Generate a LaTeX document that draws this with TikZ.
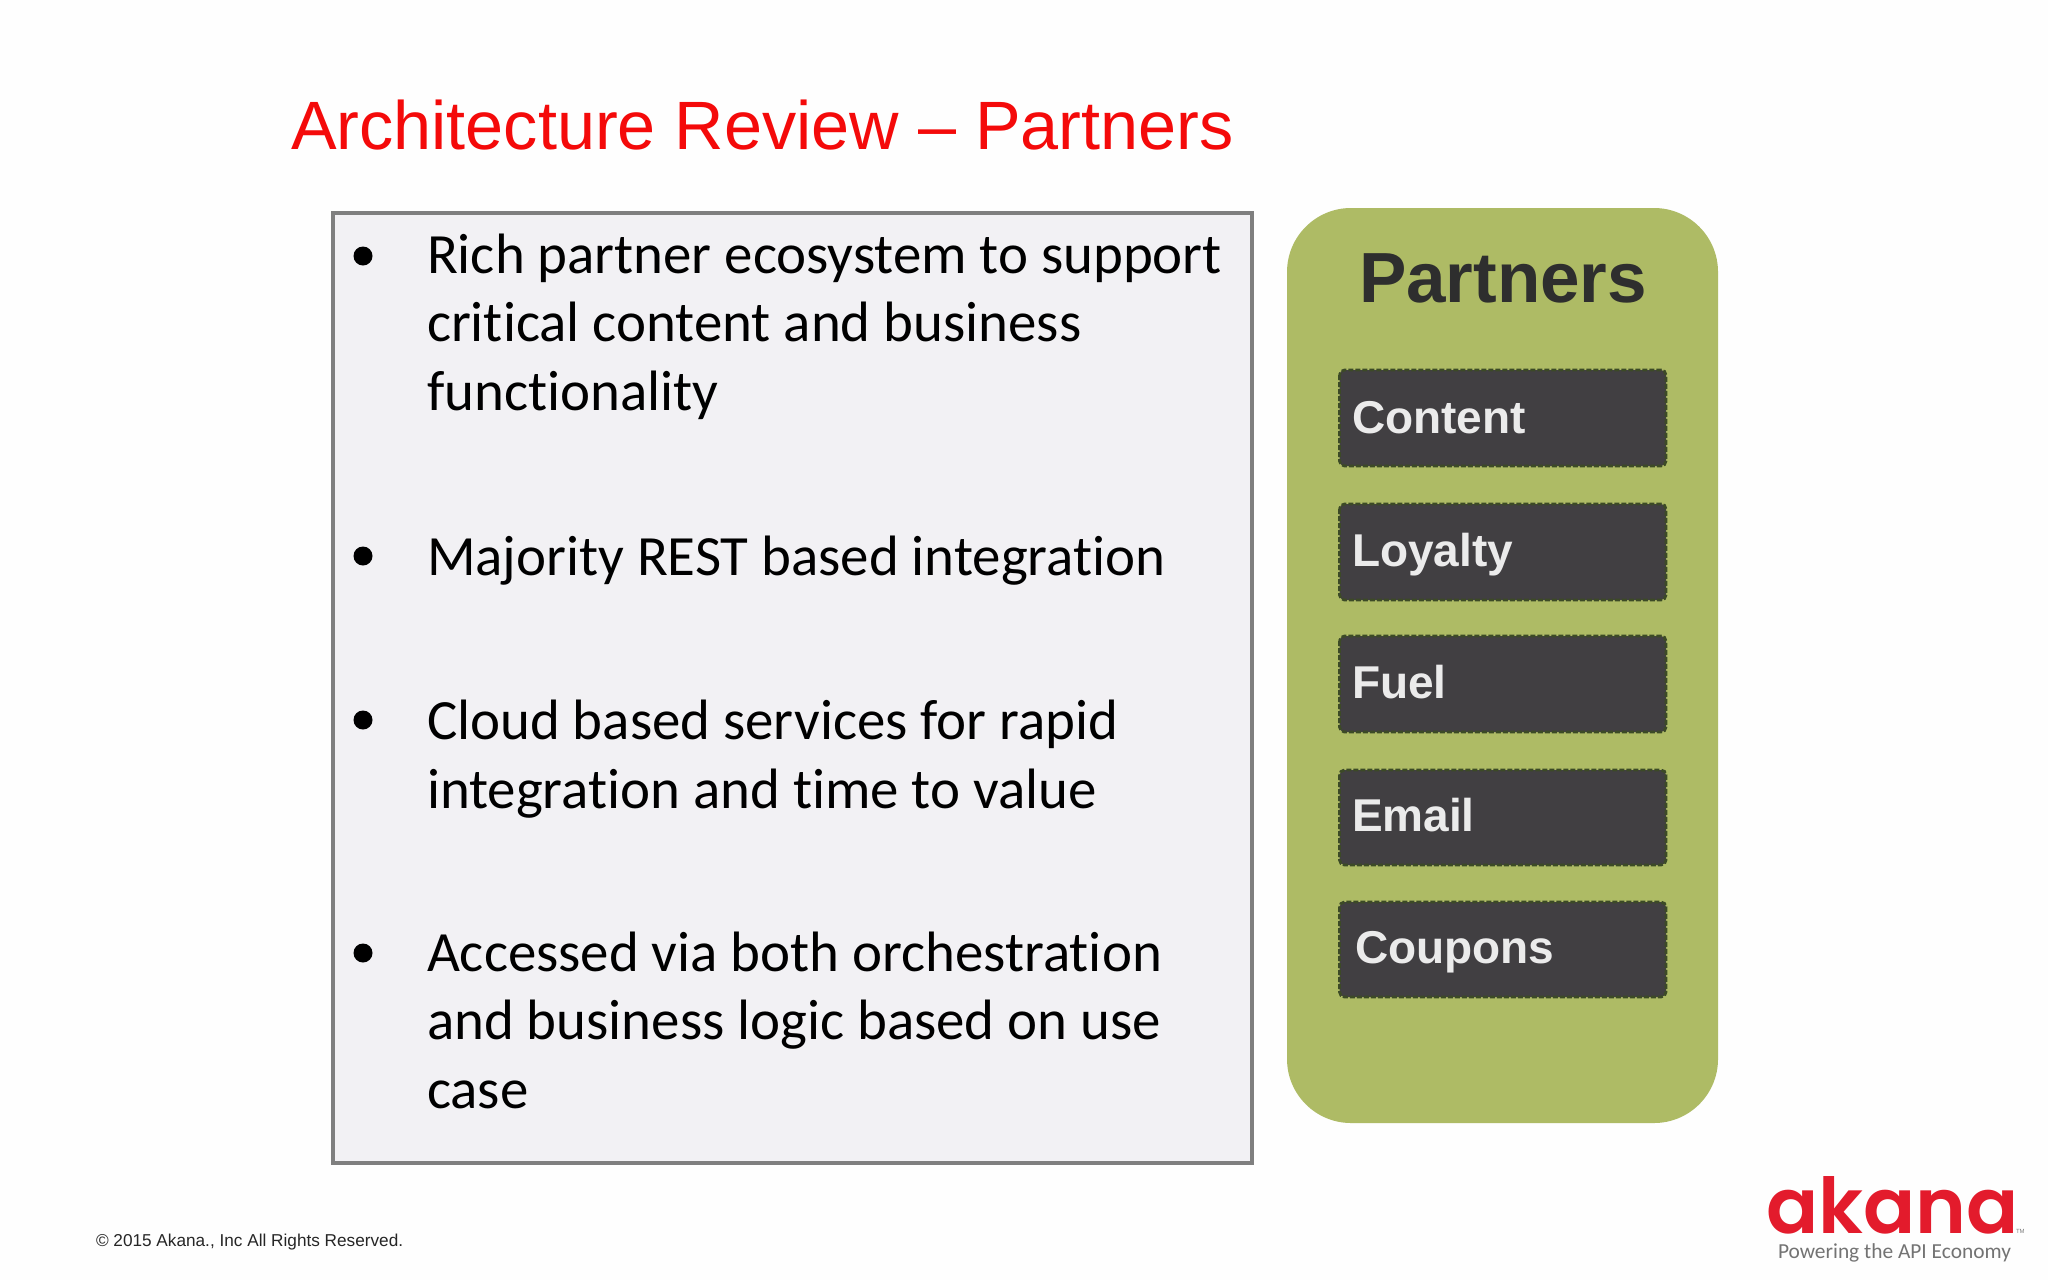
\documentclass[tikz,border=0pt]{standalone}
\usepackage{fontspec}
\setmainfont{Liberation Sans}
\newfontfamily\bodyfont[Ligatures=NoCommon]{Carlito}
\newfontfamily\logofont{Poppins SemiBold}
\definecolor{titlered}{HTML}{F40A0A}
\definecolor{logored}{HTML}{E31B2C}
\definecolor{panelgreen}{HTML}{AEBB65}
\definecolor{tilegray}{HTML}{413F42}
\definecolor{tileedge}{HTML}{3C4A26}
\definecolor{listfill}{HTML}{F2F1F4}
\definecolor{listedge}{HTML}{7F7F7F}
\begin{document}
\begin{tikzpicture}[
        x=0.5pt, y=-0.5pt,
        every node/.style={inner sep=0pt, outer sep=0pt},
        heading/.style={anchor=base west, text=titlered, font=\fontsize{34.2}{40}\selectfont},
        listbox/.style={draw=listedge, fill=listfill, line width=2.2pt},
        panel/.style={fill=panelgreen, rounded corners=32pt},
        tile/.style={draw=tileedge, fill=tilegray, line width=1.4pt, dash pattern=on 2.5pt off 1pt, rounded corners=2.5pt},
        tiletext/.style={anchor=base west, text=white!92!black, font=\fontsize{23}{28}\bfseries\selectfont},
        dotmark/.style={circle, fill=black, minimum size=9.5pt},
        item/.style={anchor=base west, align=left, font=\bodyfont\fontsize{28.45}{34.1}\selectfont},
    ]

    \useasboundingbox (0,0) rectangle (2048,1280);
    \fill[white!99.5!black] (0,0) rectangle (2048,1280);

    \node[heading](title) at (291,149) {Architecture Review -- Partners};

    % left list
    \draw[listbox] (333,213) rectangle (1252,1163);
    \node[dotmark](dot1) at (363,256) {};
    \node[dotmark](dot2) at (363,556) {};
    \node[dotmark](dot3) at (363,720) {};
    \node[dotmark](dot4) at (363,953) {};
    \node[item](item1) at (427,410) {Rich partner ecosystem to support\\critical content and business\\functionality};
    \node[item](item2) at (427,575) {Majority REST based integration};
    \node[item](item3) at (427,808) {Cloud based services for rapid\\integration and time to value};
    \node[item](item4) at (427,1108) {Accessed via both orchestration\\and business logic based on use\\case};

    % right panel
    \fill[panel] (1287,208) rectangle (1718,1123);
    \node[anchor=base west, text=black!82, font=\fontsize{35.5}{40}\bfseries\selectfont](partners) at (1359,302) {Partners};
    \draw[tile] (1339.5,370) rectangle (1666,466);
    \draw[tile] (1339.5,504) rectangle (1666,600);
    \draw[tile] (1339.5,636) rectangle (1666,732);
    \draw[tile] (1339.5,770) rectangle (1666,865);
    \draw[tile] (1339.5,902) rectangle (1666,997);
    \node[tiletext](content) at (1352,433) {Content};
    \node[tiletext](loyalty) at (1352,566) {Loyalty};
    \node[tiletext](fuel) at (1352,698) {Fuel};
    \node[tiletext](email) at (1352,831) {Email};
    \node[tiletext](coupons) at (1355,963) {Coupons};

    % footer
    \node[anchor=base west, text=black!85, font=\fontsize{8.6}{11}\selectfont](legal) at (96,1246) {© 2015 Akana., Inc All Rights Reserved.};
    \node[anchor=base west, text=logored, font=\logofont\fontsize{38.5}{46}\selectfont](logo) at (1766,1233) {akana};
    \node[anchor=base west, text=black!55, font=\bodyfont\fontsize{10.7}{14}\selectfont](tagline) at (1778,1258) {Powering the API Economy};
    \node[anchor=base west, text=black!50, font=\fontsize{3}{4}\selectfont](tm) at (2016,1233) {TM};

\end{tikzpicture}
\end{document}
